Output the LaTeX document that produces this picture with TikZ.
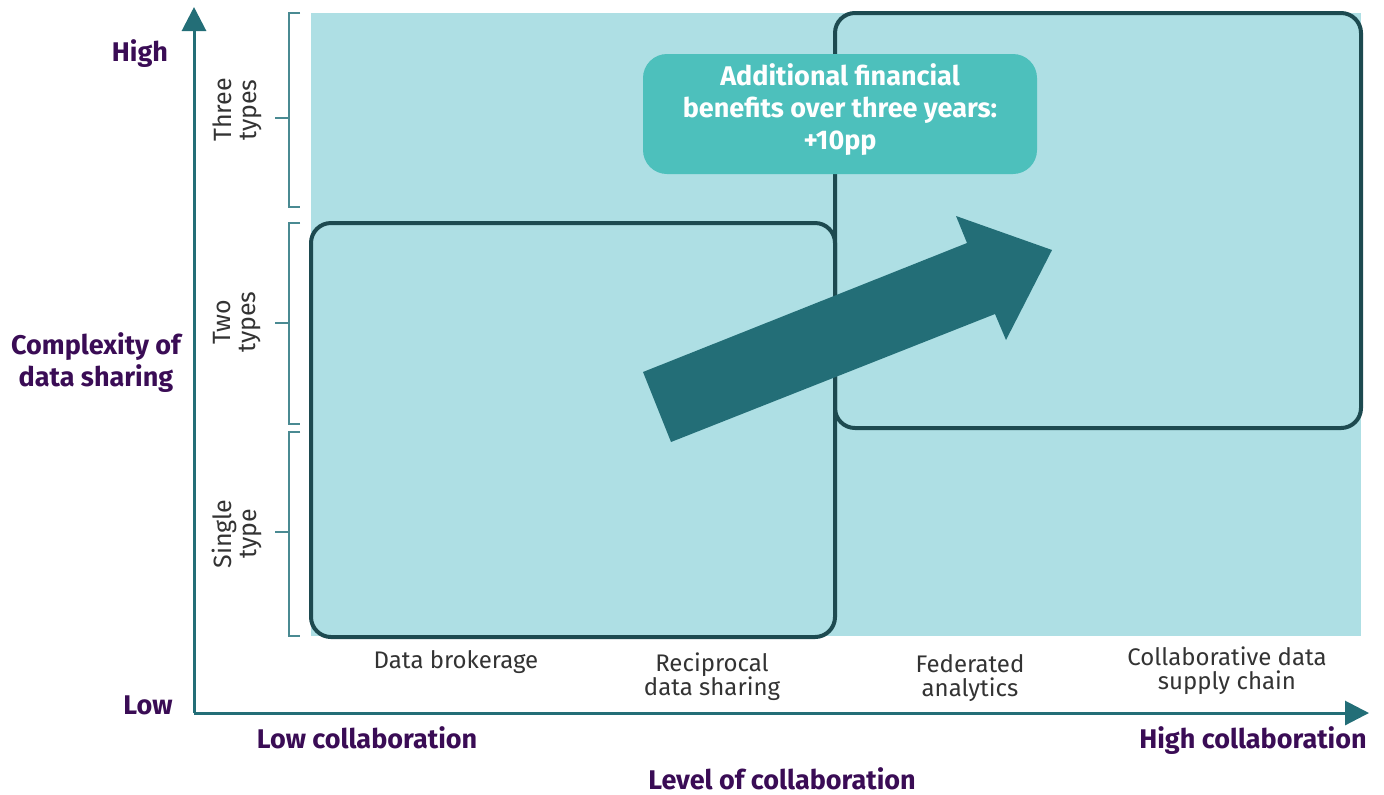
\documentclass[tikz,border=0pt]{standalone}
\usepackage{fontspec}
\setmainfont{Fira Sans}
\usetikzlibrary{arrows.meta}
\definecolor{bgblue}{HTML}{AEDFE4}
\definecolor{boxline}{HTML}{1D4A50}
\definecolor{teal}{HTML}{236E77}
\definecolor{callout}{HTML}{4DC0BC}
\definecolor{purp}{HTML}{3A0C55}
\definecolor{txt}{HTML}{333333}
\definecolor{brk}{HTML}{4A8A92}
\tikzset{
  zonebox/.style={draw=boxline, line width=2pt, rounded corners=10pt},
  axis/.style={draw=teal, line width=1.5pt, -{Triangle[length=12pt,width=12pt]}},
  bracket/.style={draw=brk, line width=0.7pt},
  catlabel/.style={text=txt, font=\fontsize{12}{12}\selectfont, align=center},
  sidelabel/.style={text=txt, font=\fontsize{12.5}{12.5}\selectfont, align=center, rotate=90},
  axlabel/.style={text=purp, font=\bfseries\fontsize{13.5}{16}\selectfont, align=center},
  callbox/.style={fill=callout, rounded corners=12pt, minimum width=197pt, minimum height=60pt, inner sep=0pt},
  calltext/.style={text=white, font=\bfseries\fontsize{13.5}{16}\selectfont, align=center, inner sep=0pt},
}
\begin{document}
\begin{tikzpicture}[x=0.5pt,y=-0.5pt]
\useasboundingbox (0,0) rectangle (1384,794);
% background
\fill[bgblue] (311,13) rectangle (1361,636);
% zone boxes
\draw[zonebox] (311,223) rectangle (835,637);
\draw[zonebox] (835,13) rectangle (1361,428);
% callout
\node[callbox] (call) at (840,114) {};
\node[calltext] (calltxt) at (840,110) {Additional financial\\benefits over three years:\\+10pp};
% big arrow
\fill[teal] (643,372) -- (967,243) -- (956,216) -- (1052,250) -- (1006,340) -- (995,314) -- (671,442) -- cycle;
% axes
\coordinate (origin) at (194,713);
\coordinate (ytop) at (194,7);
\coordinate (xend) at (1369,713);
\draw[axis] (origin) -- (ytop);
\draw[axis] (origin) -- (xend);
% brackets
\draw[bracket] (300,13) -- (289,13) -- (289,207) -- (300,207);
\draw[bracket] (275,118) -- (289,118);
\draw[bracket] (300,223) -- (289,223) -- (289,424) -- (300,424);
\draw[bracket] (275,323) -- (289,323);
\draw[bracket] (300,432) -- (289,432) -- (289,636) -- (300,636);
\draw[bracket] (275,532) -- (289,532);
\node[sidelabel] (three) at (237,110) {Three\\types};
\node[sidelabel] (two) at (237,322) {Two\\types};
\node[sidelabel] (single) at (237,534) {Single\\type};
% category labels
\node[catlabel] (c1) at (456,662) {Data brokerage};
\node[catlabel] (c2) at (712,677) {Reciprocal\\data sharing};
\node[catlabel] (c3) at (970,678) {Federated\\analytics};
\node[catlabel] (c4) at (1227,671) {Collaborative data\\supply chain};
% axis labels
\node[axlabel] (high) at (140,54) {High};
\node[axlabel] (low) at (148,705) {Low};
\node[axlabel] (cplx) at (96,363) {Complexity of\\data sharing};
\node[axlabel] (lowc) at (367,738) {Low collaboration};
\node[axlabel] (highc) at (1253,741) {High collaboration};
\node[axlabel] (level) at (782,779) {Level of collaboration};
\end{tikzpicture}
\end{document}
